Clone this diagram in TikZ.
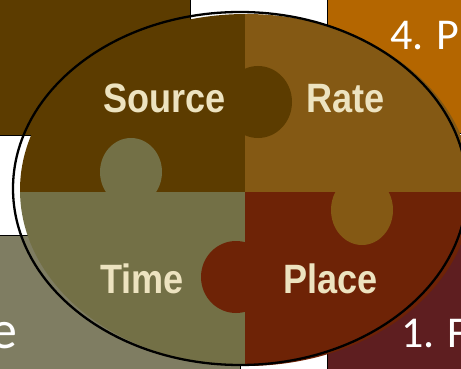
\documentclass[tikz,border=0pt]{standalone}
\usepackage{fontspec}
\setmainfont{Liberation Sans}
\newfontfamily\carlito{Carlito}
\definecolor{srcc}{HTML}{5C3C00}
\definecolor{ratec}{HTML}{845914}
\definecolor{timec}{HTML}{737046}
\definecolor{placec}{HTML}{6E2306}
\definecolor{tlc}{HTML}{5C3C00}
\definecolor{trc}{HTML}{B46600}
\definecolor{blc}{HTML}{7F7D62}
\definecolor{brc}{HTML}{5E1E20}
\definecolor{cream}{HTML}{EDE3C0}
\tikzset{
  cornerbox/.style={draw=black, line width=0.8pt},
  piecelbl/.style={text=cream, inner sep=0pt, anchor=base, xscale=0.88,
    font=\fontsize{41}{41}\selectfont\bfseries},
  cornerlbl/.style={text=white, inner sep=0pt,
    font=\carlito\fontsize{44}{44}\selectfont}
}
\begin{document}
\begin{tikzpicture}[x=1pt,y=-1pt]
\useasboundingbox (0,0) rectangle (461,369);
% corner rectangles
\filldraw[cornerbox, fill=tlc] (-2,-2) rectangle (190,135);
\filldraw[cornerbox, fill=trc] (327,-2) rectangle (463,133);
\filldraw[cornerbox, fill=blc] (-2,235) rectangle (240,371);
\filldraw[cornerbox, fill=brc] (327,235) rectangle (463,371);
% corner texts
\node[cornerlbl, anchor=base west] (tp) at (390,50) {4. P};
\node[cornerlbl, anchor=base west] (bf) at (401,347) {1. F};
\node[cornerlbl, anchor=base east, font=\carlito\fontsize{54}{54}\selectfont] (be) at (18,348) {e};
% puzzle
\begin{scope}
\clip (246,190) ellipse [x radius=226, y radius=176];
\fill[srcc] (0,0) rectangle (245,192);
\fill[ratec] (245,0) rectangle (475,192);
\fill[timec] (0,192) rectangle (245,370);
\fill[placec] (245,192) rectangle (475,370);
\fill[srcc] (258,102) ellipse [x radius=34, y radius=36];
\fill[timec] (131,172) ellipse [x radius=31, y radius=34];
\fill[placec] (236,277) ellipse [x radius=35, y radius=36];
\fill[ratec] (362,210) ellipse [x radius=31, y radius=35];
\end{scope}
\draw[line width=2.3pt] (240,188.5) ellipse [x radius=227, y radius=176.5];
% labels
\node[piecelbl] (source) at (164.5,113) {Source};
\node[piecelbl] (rate) at (345.5,113) {Rate};
\node[piecelbl] (time) at (142,293) {Time};
\node[piecelbl] (place) at (330.5,293) {Place};
\end{tikzpicture}
\end{document}
